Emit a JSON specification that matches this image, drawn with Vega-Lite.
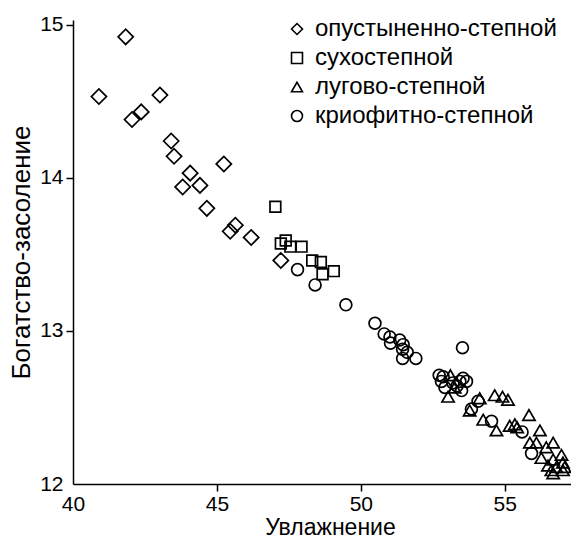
{
  "$schema": "https://vega.github.io/schema/vega-lite/v6.json",
  "width": 498,
  "height": 464,
  "autosize": {"type": "none"},
  "padding": {"left": 73, "top": 20, "right": 0, "bottom": 55},
  "background": "white",
  "config": {
    "view": {"stroke": null},
    "font": "Liberation Sans",
    "axis": {"grid": false, "domainColor": "black", "domainWidth": 1.5, "tickWidth": 1.5, "labelColor": "black", "titleColor": "black", "labelFont": "Liberation Sans", "titleFont": "Liberation Sans", "titleFontWeight": "normal", "labelFontSize": 21, "tickSize": 7, "labelFlush": false}
  },
  "data": {"values": [
    {"x": 41.83, "y": 14.92, "type": "опустыненно-степной"},
    {"x": 40.90, "y": 14.53, "type": "опустыненно-степной"},
    {"x": 43.02, "y": 14.54, "type": "опустыненно-степной"},
    {"x": 42.05, "y": 14.38, "type": "опустыненно-степной"},
    {"x": 42.37, "y": 14.43, "type": "опустыненно-степной"},
    {"x": 43.41, "y": 14.24, "type": "опустыненно-степной"},
    {"x": 43.51, "y": 14.14, "type": "опустыненно-степной"},
    {"x": 45.24, "y": 14.09, "type": "опустыненно-степной"},
    {"x": 44.07, "y": 14.03, "type": "опустыненно-степной"},
    {"x": 43.81, "y": 13.94, "type": "опустыненно-степной"},
    {"x": 44.41, "y": 13.95, "type": "опустыненно-степной"},
    {"x": 44.65, "y": 13.80, "type": "опустыненно-степной"},
    {"x": 45.64, "y": 13.69, "type": "опустыненно-степной"},
    {"x": 45.46, "y": 13.65, "type": "опустыненно-степной"},
    {"x": 46.19, "y": 13.61, "type": "опустыненно-степной"},
    {"x": 47.22, "y": 13.46, "type": "опустыненно-степной"},
    {"x": 47.03, "y": 13.81, "type": "сухостепной"},
    {"x": 47.39, "y": 13.59, "type": "сухостепной"},
    {"x": 47.22, "y": 13.57, "type": "сухостепной"},
    {"x": 47.55, "y": 13.55, "type": "сухостепной"},
    {"x": 47.94, "y": 13.55, "type": "сухостепной"},
    {"x": 48.31, "y": 13.46, "type": "сухостепной"},
    {"x": 48.61, "y": 13.45, "type": "сухостепной"},
    {"x": 48.67, "y": 13.37, "type": "сухостепной"},
    {"x": 49.06, "y": 13.39, "type": "сухостепной"},
    {"x": 53.11, "y": 12.71, "type": "лугово-степной"},
    {"x": 53.03, "y": 12.57, "type": "лугово-степной"},
    {"x": 53.26, "y": 12.63, "type": "лугово-степной"},
    {"x": 54.13, "y": 12.56, "type": "лугово-степной"},
    {"x": 53.78, "y": 12.48, "type": "лугово-степной"},
    {"x": 54.25, "y": 12.42, "type": "лугово-степной"},
    {"x": 54.65, "y": 12.58, "type": "лугово-степной"},
    {"x": 54.92, "y": 12.57, "type": "лугово-степной"},
    {"x": 55.11, "y": 12.55, "type": "лугово-степной"},
    {"x": 54.71, "y": 12.35, "type": "лугово-степной"},
    {"x": 55.17, "y": 12.38, "type": "лугово-степной"},
    {"x": 55.35, "y": 12.39, "type": "лугово-степной"},
    {"x": 55.43, "y": 12.37, "type": "лугово-степной"},
    {"x": 55.84, "y": 12.45, "type": "лугово-степной"},
    {"x": 56.22, "y": 12.35, "type": "лугово-степной"},
    {"x": 55.87, "y": 12.27, "type": "лугово-степной"},
    {"x": 56.10, "y": 12.27, "type": "лугово-степной"},
    {"x": 56.44, "y": 12.24, "type": "лугово-степной"},
    {"x": 56.68, "y": 12.27, "type": "лугово-степной"},
    {"x": 56.27, "y": 12.17, "type": "лугово-степной"},
    {"x": 56.68, "y": 12.16, "type": "лугово-степной"},
    {"x": 56.97, "y": 12.19, "type": "лугово-степной"},
    {"x": 56.79, "y": 12.11, "type": "лугово-степной"},
    {"x": 57.08, "y": 12.11, "type": "лугово-степной"},
    {"x": 56.62, "y": 12.09, "type": "лугово-степной"},
    {"x": 57.02, "y": 12.09, "type": "лугово-степной"},
    {"x": 56.68, "y": 12.07, "type": "лугово-степной"},
    {"x": 57.02, "y": 12.14, "type": "лугово-степной"},
    {"x": 56.50, "y": 12.12, "type": "лугово-степной"},
    {"x": 47.80, "y": 13.40, "type": "криофитно-степной"},
    {"x": 48.41, "y": 13.30, "type": "криофитно-степной"},
    {"x": 49.48, "y": 13.17, "type": "криофитно-степной"},
    {"x": 50.49, "y": 13.05, "type": "криофитно-степной"},
    {"x": 50.81, "y": 12.98, "type": "криофитно-степной"},
    {"x": 51.01, "y": 12.96, "type": "криофитно-степной"},
    {"x": 51.03, "y": 12.92, "type": "криофитно-степной"},
    {"x": 51.35, "y": 12.94, "type": "криофитно-степной"},
    {"x": 51.47, "y": 12.91, "type": "криофитно-степной"},
    {"x": 51.45, "y": 12.88, "type": "криофитно-степной"},
    {"x": 51.61, "y": 12.86, "type": "криофитно-степной"},
    {"x": 51.45, "y": 12.82, "type": "криофитно-степной"},
    {"x": 51.91, "y": 12.82, "type": "криофитно-степной"},
    {"x": 53.53, "y": 12.89, "type": "криофитно-степной"},
    {"x": 52.72, "y": 12.71, "type": "криофитно-степной"},
    {"x": 52.86, "y": 12.70, "type": "криофитно-степной"},
    {"x": 52.80, "y": 12.67, "type": "криофитно-степной"},
    {"x": 52.92, "y": 12.63, "type": "криофитно-степной"},
    {"x": 53.20, "y": 12.66, "type": "криофитно-степной"},
    {"x": 53.44, "y": 12.67, "type": "криофитно-степной"},
    {"x": 53.55, "y": 12.69, "type": "криофитно-степной"},
    {"x": 53.67, "y": 12.67, "type": "криофитно-степной"},
    {"x": 53.50, "y": 12.61, "type": "криофитно-степной"},
    {"x": 53.34, "y": 12.64, "type": "криофитно-степной"},
    {"x": 54.07, "y": 12.54, "type": "криофитно-степной"},
    {"x": 53.84, "y": 12.49, "type": "криофитно-степной"},
    {"x": 54.54, "y": 12.41, "type": "криофитно-степной"},
    {"x": 55.60, "y": 12.34, "type": "криофитно-степной"},
    {"x": 55.93, "y": 12.20, "type": "криофитно-степной"}
  ]},
  "encoding": {
    "x": {"field": "x", "type": "quantitative", "title": "Увлажнение",
      "scale": {"domain": [40, 57.3], "nice": false, "zero": false},
      "axis": {"values": [40, 45, 50, 55], "labelPadding": 2, "titlePadding": 2, "titleFontSize": 23, "titleX": 257,
        "tickColor": {"condition": {"test": "datum.value == 40", "value": "transparent"}, "value": "black"}}},
    "y": {"field": "y", "type": "quantitative", "title": "Богатство-засоление",
      "scale": {"domain": [12, 15.03], "nice": false, "zero": false},
      "axis": {"values": [12, 13, 14, 15], "labelPadding": 3, "titlePadding": 5, "titleFontSize": 26,
        "tickColor": {"condition": {"test": "datum.value == 12", "value": "transparent"}, "value": "black"}}},
    "shape": {"field": "type", "type": "nominal",
      "scale": {"domain": ["опустыненно-степной", "сухостепной", "лугово-степной", "криофитно-степной"], "range": ["diamond", "square", "triangle-up", "circle"]},
      "legend": {"title": null, "orient": "none", "legendX": 212, "legendY": -3, "labelFontSize": 24, "labelFont": "Liberation Sans", "labelColor": "black", "labelLimit": 0, "symbolSize": 120, "symbolStrokeWidth": 1.6, "symbolStrokeColor": "black", "symbolFillColor": "transparent", "rowPadding": 5, "labelOffset": 6, "padding": 0}}
  },
  "layer": [
    {"transform": [{"filter": "datum.type == 'опустыненно-степной'"}],
     "mark": {"type": "point", "filled": false, "stroke": "black", "strokeWidth": 1.7, "opacity": 1, "size": 230}},
    {"transform": [{"filter": "datum.type == 'сухостепной'"}],
     "mark": {"type": "point", "filled": false, "stroke": "black", "strokeWidth": 1.7, "opacity": 1, "size": 115}},
    {"transform": [{"filter": "datum.type == 'лугово-степной'"}],
     "mark": {"type": "point", "filled": false, "stroke": "black", "strokeWidth": 1.7, "opacity": 1, "size": 150}},
    {"transform": [{"filter": "datum.type == 'криофитно-степной'"}],
     "mark": {"type": "point", "filled": false, "stroke": "black", "strokeWidth": 1.7, "opacity": 1, "size": 140}}
  ]
}
